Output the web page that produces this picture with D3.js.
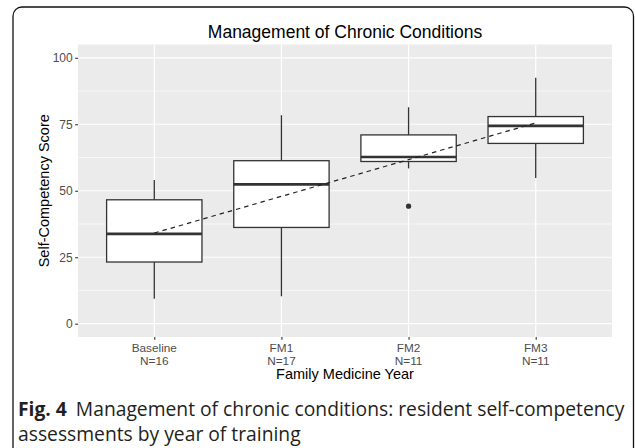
<!DOCTYPE html>
<html><head><meta charset="utf-8">
<script src="https://cdn.jsdelivr.net/npm/d3@7"></script>
<style>
html,body{margin:0;padding:0;background:#fff;}
svg{display:block;}
</style></head>
<body>
<script>
// ---- data ----
const categories = ["Baseline", "FM1", "FM2", "FM3"];
const nLabels = ["N=16", "N=17", "N=11", "N=11"];
const whiskerLow = [9.4, 10.3, 58.4, 54.8];
const q1 = [23.2, 36.2, 61.0, 67.8];
const median = [33.8, 52.4, 62.7, 74.4];
const q3 = [46.6, 61.3, 71.0, 77.9];
const whiskerHigh = [54.0, 78.4, 81.4, 92.5];
const outliers = [{cat: "FM2", value: 44.2}];
const trend = [34.1, 47.9, 61.7, 75.5];
const yTicks = [0, 25, 50, 75, 100];
const yMinor = [12.5, 37.5, 62.5, 87.5];
const titleText = "Management of Chronic Conditions";
const xTitle = "Family Medicine Year";
const yTitle = "Self-Competency Score";
const captionBold = "Fig. 4";
const captionLine1 = "Management of chronic conditions: resident self-competency";
const captionLine2 = "assessments by year of training";

const W = 635, H = 448;
const svg = d3.select("body").append("svg").attr("width", W).attr("height", H);

// figure frame (open at bottom, rounded top corners)
const fl = 13, fr = 633.5, ft = 7, r = 9;
svg.append("path")
  .attr("d", `M${fl},${H} L${fl},${ft + r} A${r},${r} 0 0 1 ${fl + r},${ft} L${fr - r},${ft} A${r},${r} 0 0 1 ${fr},${ft + r} L${fr},${H}`)
  .attr("fill", "none").attr("stroke", "#111").attr("stroke-width", 1.3);

const P = {left: 78, right: 612, top: 44.5, bottom: 337};
const x = d3.scalePoint().domain(categories).range([P.left, P.right]).padding(0.6);
const y = d3.scaleLinear().domain([-5, 105]).range([P.bottom, P.top]);
const step = x.step();

// panel
svg.append("rect").attr("x", P.left).attr("y", P.top)
  .attr("width", P.right - P.left).attr("height", P.bottom - P.top).attr("fill", "#ebebeb");
const g = svg.append("g");
g.selectAll(".ymin").data(yMinor).join("line")
  .attr("x1", P.left).attr("x2", P.right).attr("y1", d => y(d)).attr("y2", d => y(d))
  .attr("stroke", "#fff").attr("stroke-width", 0.6);
g.selectAll(".ymaj").data(yTicks).join("line")
  .attr("x1", P.left).attr("x2", P.right).attr("y1", d => y(d)).attr("y2", d => y(d))
  .attr("stroke", "#fff").attr("stroke-width", 1.2);
g.selectAll(".xmaj").data(categories).join("line")
  .attr("x1", d => x(d)).attr("x2", d => x(d)).attr("y1", P.top).attr("y2", P.bottom)
  .attr("stroke", "#fff").attr("stroke-width", 1.2);

// boxes
const bw = step * 0.75;
const col = "#333333";
const boxes = categories.map((c, i) => ({c, lo: whiskerLow[i], q1: q1[i], med: median[i], q3: q3[i], hi: whiskerHigh[i]}));
const bg = svg.append("g");
bg.selectAll(".wl").data(boxes).join("line")
  .attr("x1", d => x(d.c)).attr("x2", d => x(d.c)).attr("y1", d => y(d.lo)).attr("y2", d => y(d.q1))
  .attr("stroke", col).attr("stroke-width", 1.3);
bg.selectAll(".wh").data(boxes).join("line")
  .attr("x1", d => x(d.c)).attr("x2", d => x(d.c)).attr("y1", d => y(d.hi)).attr("y2", d => y(d.q3))
  .attr("stroke", col).attr("stroke-width", 1.3);
bg.selectAll(".box").data(boxes).join("rect")
  .attr("x", d => x(d.c) - bw / 2).attr("width", bw)
  .attr("y", d => y(d.q3)).attr("height", d => y(d.q1) - y(d.q3))
  .attr("fill", "#fff").attr("stroke", col).attr("stroke-width", 1.3);
bg.selectAll(".med").data(boxes).join("line")
  .attr("x1", d => x(d.c) - bw / 2).attr("x2", d => x(d.c) + bw / 2)
  .attr("y1", d => y(d.med)).attr("y2", d => y(d.med))
  .attr("stroke", col).attr("stroke-width", 2.6);
bg.selectAll(".out").data(outliers).join("circle")
  .attr("cx", d => x(d.cat)).attr("cy", d => y(d.value)).attr("r", 2.6).attr("fill", col);

// trend line
const line = d3.line().x((d, i) => x(categories[i])).y(d => y(d));
svg.append("path").datum(trend).attr("d", line)
  .attr("fill", "none").attr("stroke", "#222").attr("stroke-width", 1.2).attr("stroke-dasharray", "4.5,4");

// axes
const font = "'Liberation Sans', Arial, sans-serif";
const yAxis = svg.append("g").attr("transform", `translate(${P.left},0)`)
  .call(d3.axisLeft(y).tickValues(yTicks).tickSize(2.8).tickPadding(2.5));
yAxis.select(".domain").remove();
yAxis.selectAll("line").attr("stroke", col).attr("stroke-width", 1.1);
yAxis.selectAll("text").attr("fill", "#4d4d4d").style("font-family", font).style("font-size", "12px");

const xAxis = svg.append("g").attr("transform", `translate(0,${P.bottom})`)
  .call(d3.axisBottom(x).tickSize(2.8).tickFormat(() => ""));
xAxis.select(".domain").remove();
xAxis.selectAll("line").attr("stroke", col).attr("stroke-width", 1.1);
const xl = svg.append("g");
xl.selectAll(".c").data(categories).join("text")
  .attr("x", d => x(d)).attr("y", 351.5).attr("text-anchor", "middle")
  .attr("fill", "#4d4d4d").style("font-family", font).style("font-size", "11.8px").text(d => d);
xl.selectAll(".n").data(categories).join("text")
  .attr("x", d => x(d)).attr("y", 365).attr("text-anchor", "middle")
  .attr("fill", "#4d4d4d").style("font-family", font).style("font-size", "11.8px").text((d, i) => nLabels[i]);

svg.append("text").attr("x", (P.left + P.right) / 2).attr("y", 379).attr("text-anchor", "middle")
  .style("font-family", font).style("font-size", "14.5px").attr("fill", "#000").text(xTitle);
svg.append("text").attr("transform", `translate(49,${(P.top + P.bottom) / 2}) rotate(-90)`)
  .attr("text-anchor", "middle").style("font-family", font).style("font-size", "14.5px").attr("fill", "#000").text(yTitle);
svg.append("text").attr("x", (P.left + P.right) / 2).attr("y", 38).attr("text-anchor", "middle")
  .style("font-family", font).style("font-size", "17.5px").attr("fill", "#000").text(titleText);

// caption
const cf = "'Open Sans', 'Noto Sans', sans-serif";
const cap1 = svg.append("text").attr("x", 18).attr("y", 415.5).style("font-family", cf).style("font-size", "19px").attr("fill", "#231f20");
cap1.append("tspan").style("font-weight", "bold").text(captionBold);
cap1.append("tspan").attr("dx", 9).text(captionLine1);
const w1 = cap1.node().getComputedTextLength();
const target = 598;
const fs = 19 * target / w1;
cap1.style("font-size", fs + "px");
svg.append("text").attr("x", 18).attr("y", 441).style("font-family", cf).style("font-size", fs + "px").attr("fill", "#231f20").text(captionLine2);
</script>
</body></html>
